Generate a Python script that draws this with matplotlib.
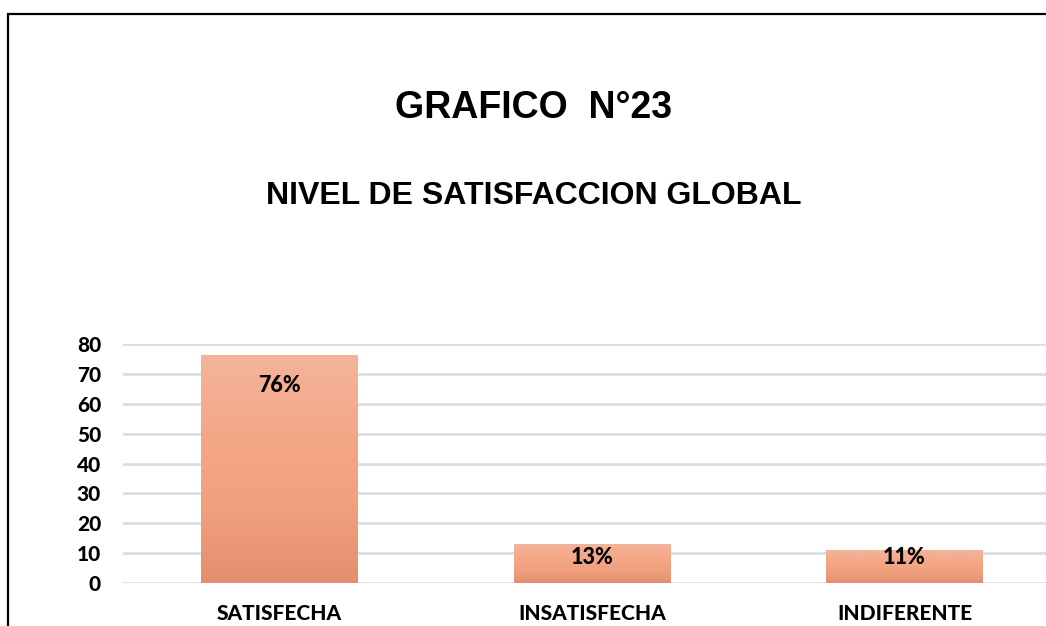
import matplotlib.pyplot as plt
import numpy as np
from matplotlib.colors import LinearSegmentedColormap
from matplotlib.patches import Rectangle

# data
categorias = ['SATISFECHA', 'INSATISFECHA', 'INDIFERENTE']
valores = [76, 13, 11]
etiquetas = ['76%', '13%', '11%']
y_ticks = [0, 10, 20, 30, 40, 50, 60, 70, 80]

fig = plt.figure(figsize=(10.46, 6.26), dpi=100)

# outer frame of the chart area (runs off the right and bottom edge)
frame = Rectangle((7.5 / 1046, -0.1), 1.2, (626 - 13.5) / 626 + 0.1,
                  transform=fig.transFigure, fill=False, edgecolor='black',
                  linewidth=1.6, zorder=0)
fig.patches.append(frame)

fig.text(534 / 1046, 1 - 108 / 626, 'GRAFICO  N°23', ha='center', va='center',
         fontsize=27, fontweight='bold', family='Liberation Sans')
fig.text(534 / 1046, 1 - 196 / 626, 'NIVEL DE SATISFACCION GLOBAL', ha='center',
         va='center', fontsize=23, fontweight='bold', family='Liberation Sans')

ax = fig.add_axes([123.25 / 1046, 43 / 626, 937.5 / 1046, 239 / 626])
ax.set_xlim(-0.5, len(categorias) - 0.5)
ax.set_ylim(0, 80)

# gradient bars: lighter at top, darker at bottom
cmap = LinearSegmentedColormap.from_list('naranja', ['#E28F70', '#F1A07F', '#F4A888', '#F4B49A'])
grad = np.linspace(0, 1, 256).reshape(-1, 1)
bars = ax.bar(range(len(categorias)), valores, width=0.5, color='none', zorder=2)
for b in bars:
    x0, w, h = b.get_x(), b.get_width(), b.get_height()
    ax.imshow(grad, cmap=cmap, aspect='auto', origin='lower',
              extent=[x0, x0 + w, 0, h], zorder=2, interpolation='bicubic')

for i, (v, lab) in enumerate(zip(valores, etiquetas)):
    ax.text(i, max(v - 10, 8.7), lab, ha='center', va='center',
            fontsize=15.5, fontweight='black', family='Lato', zorder=3)

ax.set_yticks(y_ticks)
ax.set_xticks(range(len(categorias)))
ax.set_xticklabels(categorias)
ax.grid(axis='y', color='#D9DEE6', linewidth=2, zorder=1)
ax.set_axisbelow(True)
for s in ax.spines.values():
    s.set_visible(False)
ax.tick_params(length=0)
ax.tick_params(axis='y', pad=16)
ax.tick_params(axis='x', pad=15)
for t in ax.get_yticklabels() + ax.get_xticklabels():
    t.set_fontweight('black')
    t.set_family('Lato')
    t.set_fontsize(15)

fig.savefig('out.png', dpi=100)
